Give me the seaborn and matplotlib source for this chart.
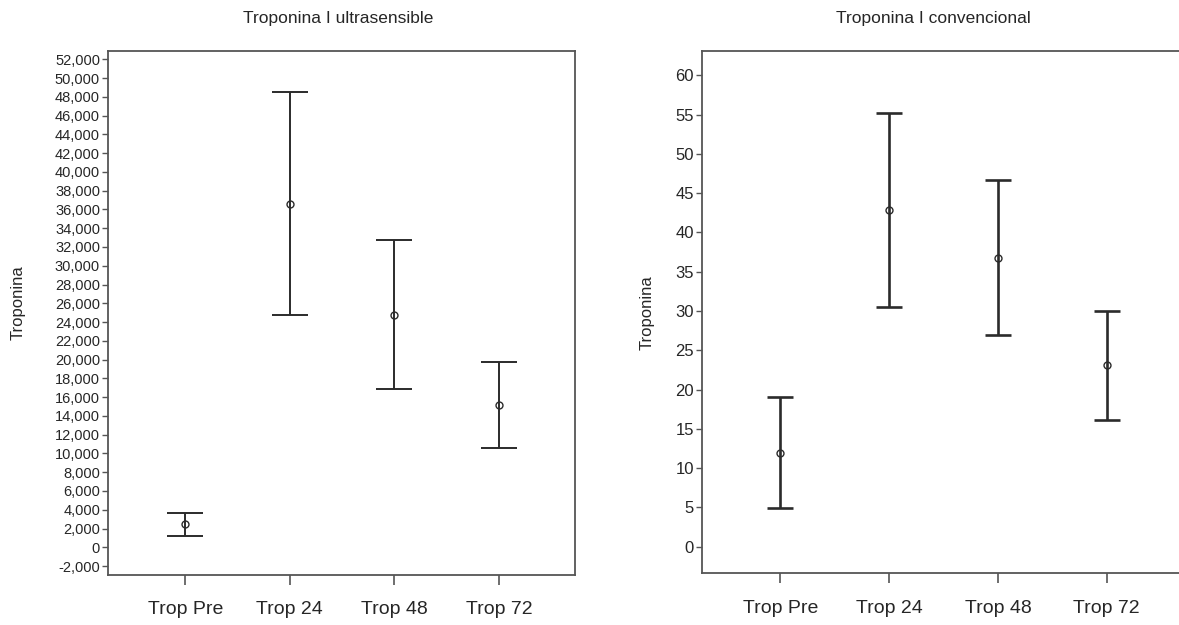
import numpy as np
import pandas as pd
import matplotlib
matplotlib.use("Agg")
import matplotlib.pyplot as plt
from matplotlib.ticker import FuncFormatter
import seaborn as sns

# Values (mean and interval ends)
categories = ["Trop Pre", "Trop 24", "Trop 48", "Trop 72"]

ultra_mean = [2450, 36600, 24800, 15150]
ultra_low = [1170, 24750, 16870, 10550]
ultra_high = [3690, 48500, 32780, 19740]

conv_mean = [11.97, 42.85, 36.8, 23.15]
conv_low = [4.93, 30.57, 26.93, 16.18]
conv_high = [19.03, 55.2, 46.7, 30.06]

sns.set_style("white")
plt.rcParams["font.family"] = ["Liberation Sans Narrow", "DejaVu Sans Condensed",
                               "Liberation Sans", "DejaVu Sans"]

LINE = "#2b2b2b"
SPINE = "#555555"


def draw_panel(ax, mean, low, high, capsize, lw):
    df = pd.DataFrame({"Tiempo": categories, "Troponina": mean})
    sns.pointplot(data=df, x="Tiempo", y="Troponina", order=categories,
                  linestyle="none", marker="o", markersize=5,
                  markerfacecolor="none", markeredgecolor=LINE,
                  markeredgewidth=1.0, color=LINE, errorbar=None, ax=ax, zorder=3)
    x = np.arange(len(categories))
    mean = np.array(mean)
    yerr = [mean - np.array(low), np.array(high) - mean]
    ax.errorbar(x, mean, yerr=yerr, fmt="none", ecolor=LINE,
                elinewidth=lw, capsize=capsize, capthick=lw, zorder=2)
    ax.set_xlabel("")
    ax.set_ylabel("Troponina", fontsize=12)
    for side in ["left", "bottom", "top", "right"]:
        ax.spines[side].set_color(SPINE)
        ax.spines[side].set_linewidth(1.3)
    ax.tick_params(axis="x", length=7, width=1.2, color=SPINE,
                   labelsize=14, pad=12)
    ax.tick_params(axis="y", length=4, width=1.0, color=SPINE, pad=2)
    ax.tick_params(left=True, bottom=True)


fig = plt.figure(figsize=(11.79, 6.25), dpi=100)

ax1 = fig.add_axes([0.0919, 0.08, 0.3958, 0.8384])
draw_panel(ax1, ultra_mean, ultra_low, ultra_high, capsize=13, lw=1.4)
ax1.set_xlim(-0.736, 3.727)
ax1.set_ylim(-2950, 52880)
ax1.set_yticks(np.arange(-2000, 52001, 2000))
ax1.yaxis.set_major_formatter(FuncFormatter(lambda v, p: f"{int(round(v)):,}"))
ax1.tick_params(axis="y", labelsize=10.5)
ax1.yaxis.set_label_coords(-0.177, 0.52)

ax2 = fig.add_axes([0.5957, 0.0827, 0.4092, 0.8357])
draw_panel(ax2, conv_mean, conv_low, conv_high, capsize=9.6, lw=1.9)
ax2.set_xlim(-0.717, 3.717)
ax2.set_ylim(-3.4, 63.1)
ax2.set_yticks(np.arange(0, 61, 5))
ax2.tick_params(axis="y", labelsize=12)
ax2.yaxis.set_label_coords(-0.098, 0.5)

fig.text(338 / 1179, 1 - 18 / 625, "Troponina I ultrasensible",
         ha="center", va="center", fontsize=12.5)
fig.text(933 / 1179, 1 - 18 / 625, "Troponina I convencional",
         ha="center", va="center", fontsize=12.5)

fig.savefig("out.png", dpi=100)
